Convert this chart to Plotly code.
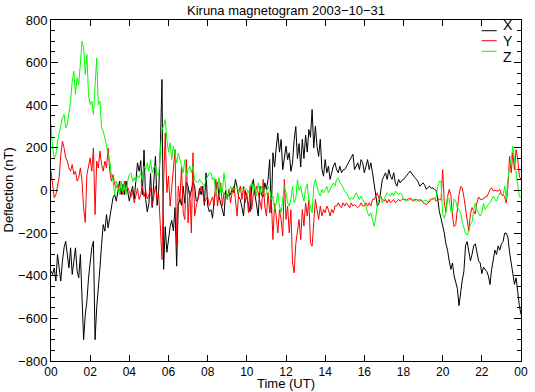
import plotly.graph_objects as go

# time axis: 5-minute samples over the day (hours UT)
hours = [j / 12 for j in range(289)]

# X component (nT), one row per hour
x_comp = [
    -378, -394, -363, -425, -300, -363, -425, -332, -269, -238, -316, -363,
    -269, -394, -332, -269, -378, -410, -300, -488, -700, -582, -519, -410,
    -332, -269, -238, -700, -550, -472, -363, -253, -160, -191, -113, -175,
    -128, -81, -34, -19, -50, -3, 44, -19, 28, -19, 44, -3,
    -50, -10, 20, -40, 60, 130, 90, 140, -20, 190, -42, -100,
    -60, 80, -80, 40, 160, -70, 0, 200, 521, -370, -170, -290,
    -230, -170, -140, -190, -80, -355, -70, -40, -70, 20, -60, 40,
    20, -30, 0, 40, 20, -50, -40, 10, -20, 20, -70, 83,
    -70, -100, -90, -130, -40, 10, 40, -30, -60, -100, -120, 0,
    -30, -10, -20, 10, -10, 52, 20, -30, -42, -80, -120, 0,
    -30, -60, -100, 20, 52, -20, -73, -120, 20, -20, -30, 36,
    5, 52, 145, -105, 177, 110, 200, 270, 180, 239, 98, 145,
    208, 145, 177, 90, 130, 239, 300, 150, 220, 110, 240, 150,
    260, 180, 286, 250, 380, 200, 302, 208, 160, 240, 100, 67,
    145, 83, 114, 52, 83, 114, 130, 98, 83, 114, 83, 98,
    98, 114, 130, 145, 161, 170, 98, 114, 130, 98, 145, 130,
    83, 114, 145, 98, 130, 83, 30, -42, -73, -60, -10, 50,
    67, 83, 52, 98, 67, 52, 83, 36, 20, 52, 36, 48,
    52, 60, 67, 80, 91, 80, 67, 60, 52, 40, 20, 30,
    36, 25, 5, 15, 20, 10, 12, 5, 0, -40, -100, -130,
    -160, -200, -250, -280, -330, -370, -340, -400, -430, -460, -540, -470,
    -420, -380, -260, -240, -280, -330, -300, -260, -250, -300, -330, -340,
    -390, -360, -370, -380, -400, -441, -370, -330, -280, -300, -260, -280,
    -250, -240, -200, -200, -220, -290, -340, -390, -440, -410, -480, -540,
    -582,
]

# Y component (nT)
y_comp = [
    91, 13, -34, -19, 13, 60, 169, 231, 200, 153, 138, 106,
    91, 122, 75, 91, 44, 60, 106, 44, -81, -150, 75, 122,
    153, 91, 200, -113, 138, 106, 185, 122, 91, 138, 106, 200,
    91, 44, 75, 28, 13, 28, -3, 13, -19, 44, -3, 13,
    -3, -30, 0, -58, -20, 10, -42, -20, 20, -30, 0, -40,
    -20, 10, -73, -20, 20, -40, -20, -167, -324, 36, 270, -10,
    67, -73, 20, 130, 192, -261, 20, -42, 114, -105, -136, 145,
    -152, 0, -199, 177, -120, -73, -42, -20, 20, -10, -58, -40,
    -30, -73, -50, -30, -70, 52, -73, -20, 36, -73, -10, -20,
    -42, 5, -58, -10, 20, -42, -120, -10, 20, -42, 20, -58,
    -10, -105, 20, -89, -10, -20, 20, -10, -42, -89, 52, -73,
    -120, -10, -105, -42, -230, -60, -120, -199, -90, -136, -214, 52,
    -136, -73, -199, -90, -339, -386, -250, -199, -136, -230, -90, -167,
    -58, -120, -42, -245, -261, -150, -42, -89, -136, -73, -120, -89,
    -105, -73, -89, -120, -89, -105, -73, -73, -58, -73, -81, -58,
    -73, -58, -73, -81, -58, -73, -66, -73, -81, -73, -58, -73,
    -73, -58, -73, -58, -73, -42, -42, -26, -11, -42, -26, -42,
    -50, -42, -58, -42, -58, -50, -42, -58, -50, -42, -50, -42,
    -40, -42, -45, -40, -35, -45, -50, -42, -42, -48, -50, -45,
    -58, -62, -66, -60, -50, -42, -38, -35, -50, -42, -40, -45,
    98, -58, -100, -30, 5, -20, -120, -170, -160, -70, -20, 18,
    12, -30, -89, -140, -190, -110, -80, -95, -110, -55, -30, -42,
    -40, -40, -30, -30, -15, 5, 12, -2, 0, -3, -3, 5,
    -20, -20, -30, -58, 20, 161, 83, 177, 98, 192, 145, 67,
    51,
]

# Z component (nT)
z_comp = [
    310, 200, 153, 169, 231, 270, 310, 341, 357, 294, 310, 357,
    419, 513, 560, 450, 529, 497, 607, 700, 670, 544, 638, 450,
    403, 419, 357, 466, 622, 403, 419, 294, 278, 247, 200, 169,
    138, 75, 44, -19, 44, 13, -19, 44, -3, 28, -19, 44,
    75, 83, 40, 60, 40, 70, 60, 80, 50, 114, 100, 130,
    90, 145, 83, 110, 114, 80, 67, 180, 286, 302, 333, 239,
    180, 224, 145, 208, 176, 130, 176, 145, 114, 83, 145, 67,
    98, 114, 83, 114, 52, 40, 36, 52, 40, 30, 20, 50,
    67, 83, 83, 50, 60, -20, 20, 60, -10, -10, 83, 20,
    -42, -10, 20, 0, 10, 5, 20, -10, 0, 5, 20, 10,
    5, -11, 20, 36, -11, 20, -26, 36, -11, 20, -11, -26,
    -11, 20, 5, -42, -26, -89, -60, -11, -73, -105, -42, 20,
    -11, -58, -73, -42, 20, -58, -40, 50, 0, 20, -20, -50,
    10, 30, -50, -80, -105, 20, 52, 20, -11, -26, 5, -11,
    5, 20, -11, 5, 20, 36, 20, 52, 59, 36, 28, 12,
    -3, -11, -26, -42, -34, -42, -26, -11, -26, -42, -26, -42,
    -58, -73, -105, -120, -105, -136, -167, -130, -58, -42, -26, -58,
    -42, -26, -11, -19, -26, -11, -26, -3, -11, -19, -11, -20,
    -42, -48, -50, -46, -42, -40, -42, -46, -50, -44, -42, -45,
    -50, -46, -48, -55, -42, -40, -42, -38, -30, 20, 44, 40,
    -110, -130, -100, -30, -40, -100, -100, -40, -50, -80, -90, -100,
    -150, -180, -200, -210, -190, -160, -150, -90, -60, -90, -105, -120,
    -105, -60, -89, -74, -65, -58, -40, -26, -40, -50, -30, -11,
    -20, -26, 20, -42, 52, 114, 145, 208, 140, 80, 30, -30,
    -30,
]

series_names = ["X", "Y", "Z"]
series_colors = ["#000000", "#ff0000", "#00ff00"]
tick_hours = list(range(0, 25, 2))
tick_text = ["00", "02", "04", "06", "08", "10", "12", "14", "16", "18", "20", "22", "00"]
y_ticks = list(range(-800, 801, 200))

FONT = "Liberation Sans, Arial, Helvetica, sans-serif"

fig = go.Figure()
for name, vals, col in zip(series_names, [x_comp, y_comp, z_comp], series_colors):
    fig.add_trace(go.Scatter(x=hours, y=vals, mode="lines", name=name,
                             line=dict(color=col, width=1), showlegend=False))

# IDL-style legend in the top-right corner
for col, ly in zip(series_colors, [0.9686, 0.9393, 0.9082]):
    fig.add_shape(type="line", xref="paper", yref="paper", x0=0.9164, x1=0.9483,
                  y0=ly, y1=ly, line=dict(color=col, width=1))
for name, ly in zip(series_names, [0.9868, 0.937, 0.8915]):
    fig.add_annotation(text=name, xref="paper", yref="paper", x=0.957, y=ly,
                       xanchor="left", yanchor="middle", showarrow=False,
                       font=dict(family=FONT, size=14, color="black"))

# title and axis titles
fig.add_annotation(text="Kiruna magnetogram 2003\u221210\u221231", xref="paper", yref="paper",
                   x=0.5, y=(361 - 10) / 341, xanchor="center", yanchor="middle",
                   showarrow=False, font=dict(family=FONT, size=13, color="black"))
fig.add_annotation(text="Time (UT)", xref="paper", yref="paper",
                   x=0.5, y=(361 - 392) / 341, xanchor="center", yanchor="bottom",
                   showarrow=False, borderpad=0, font=dict(family=FONT, size=13, color="black"))
fig.add_annotation(text="Deflection (nT)", xref="paper", yref="paper",
                   x=(8 - 51) / 470, y=0.5, xanchor="center", yanchor="middle", textangle=-90,
                   showarrow=False, font=dict(family=FONT, size=13, color="black"))

fig.update_layout(
    width=535, height=392,
    margin=dict(l=51, r=14, t=20, b=31, autoexpand=False),
    paper_bgcolor="white", plot_bgcolor="white",
    font=dict(family=FONT, size=13, color="black"),
    showlegend=False,
)
fig.update_xaxes(range=[0, 24], tickvals=tick_hours, ticktext=tick_text, automargin=False,
                 ticks="inside", ticklen=6, tickcolor="black", showline=True,
                 linecolor="black", linewidth=1, mirror="allticks", showgrid=False,
                 zeroline=False, tickfont=dict(family=FONT, size=12))
fig.update_yaxes(range=[-800, 800], tickvals=y_ticks, automargin=False,
                 ticks="inside", ticklen=7, tickcolor="black", showline=True,
                 linecolor="black", linewidth=1, mirror="allticks", showgrid=False,
                 zeroline=False, tickfont=dict(family=FONT, size=13),
                 minor=dict(ticks="inside", ticklen=4, dtick=50, tickcolor="black", showgrid=False))

# remove the browser's default page margin so the figure sits at the window origin
fig.write_html("out.html", config={"displayModeBar": False},
               post_script="document.body.style.margin='0';document.body.style.overflow='hidden';")
